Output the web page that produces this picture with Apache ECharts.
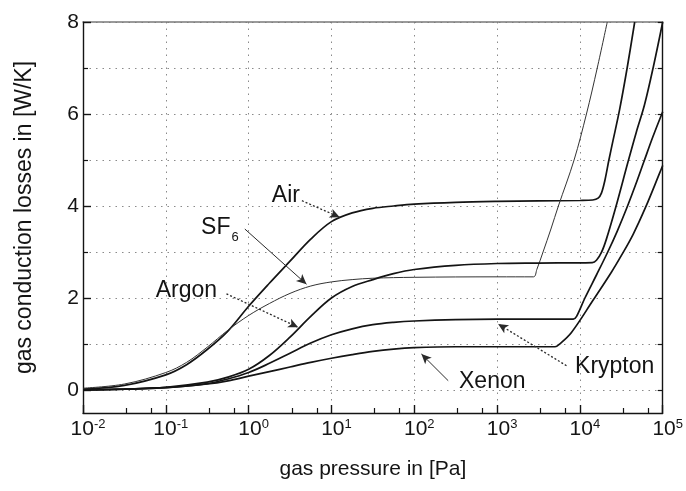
<!DOCTYPE html>
<html>
<head>
<meta charset="utf-8">
<script src="https://cdn.jsdelivr.net/npm/echarts@6/dist/echarts.min.js"></script>
<style>
  html, body { margin: 0; padding: 0; background: #fff; }
  #chart { width: 686px; height: 491px; }
</style>
</head>
<body>
<div id="chart"></div>
<script>
// Gas pressure (Pa) and gas conduction losses (W/K) for each fill gas
const airP = [0.01, 0.0316, 0.1, 0.178, 0.316, 0.562, 1, 1.78, 3.16, 5.62, 10, 17.8, 31.6, 56.2, 100, 316, 1000, 3160, 10000, 14300, 16600, 18200, 20000, 22400, 25100, 30200, 37200, 45900];
const airW = [0.02, 0.10, 0.33, 0.55, 0.88, 1.28, 1.82, 2.32, 2.80, 3.28, 3.66, 3.85, 3.95, 4.00, 4.04, 4.08, 4.10, 4.11, 4.12, 4.13, 4.17, 4.28, 4.55, 5.00, 5.42, 6.10, 7.00, 8.00];

const sf6P = [0.01, 0.0316, 0.1, 0.178, 0.316, 0.562, 1, 1.78, 3.16, 5.62, 10, 17.8, 31.6, 100, 1000, 2750, 3020, 3590, 4470, 5500, 8510, 12000, 16200, 21400];
const sf6W = [0.04, 0.13, 0.38, 0.60, 0.93, 1.30, 1.62, 1.88, 2.10, 2.26, 2.35, 2.40, 2.43, 2.45, 2.46, 2.46, 2.62, 3.00, 3.50, 4.00, 5.00, 6.00, 7.00, 8.00];

const argonP = [0.01, 0.0316, 0.1, 0.316, 0.562, 1, 1.78, 3.16, 5.62, 10, 17.8, 31.6, 56.2, 100, 316, 1000, 3160, 14100, 15850, 18200, 20900, 26900, 38000, 47900, 60300, 77600, 100000];
const argonW = [0.00, 0.02, 0.06, 0.17, 0.28, 0.45, 0.75, 1.15, 1.60, 2.00, 2.25, 2.40, 2.53, 2.62, 2.71, 2.75, 2.76, 2.77, 2.82, 2.99, 3.28, 3.95, 4.95, 5.60, 6.20, 7.05, 8.00];

const kryptonP = [0.01, 0.0316, 0.1, 0.316, 0.562, 1, 1.78, 3.16, 5.62, 10, 17.8, 31.6, 56.2, 100, 316, 1000, 3160, 8320, 9120, 11500, 15850, 21700, 28200, 36700, 46800, 58900, 75900, 100000];
const kryptonW = [0.00, 0.02, 0.05, 0.14, 0.24, 0.38, 0.58, 0.80, 1.02, 1.20, 1.33, 1.42, 1.47, 1.50, 1.53, 1.54, 1.54, 1.54, 1.60, 2.00, 2.50, 3.00, 3.45, 3.95, 4.45, 4.95, 5.50, 6.05];

const xenonP = [0.01, 0.0316, 0.1, 0.316, 0.562, 1, 1.78, 3.16, 5.62, 10, 17.8, 31.6, 56.2, 100, 316, 1000, 3160, 5010, 5620, 7910, 14400, 24000, 31600, 43800, 62400, 92000, 100000];
const xenonW = [0.00, 0.02, 0.05, 0.13, 0.20, 0.30, 0.40, 0.50, 0.60, 0.69, 0.77, 0.84, 0.89, 0.92, 0.94, 0.94, 0.94, 0.94, 0.99, 1.25, 1.95, 2.56, 2.92, 3.38, 3.98, 4.72, 4.88];

// Axis ticks
const pressureTicks = [1e-2, 1e-1, 1, 10, 100, 1e3, 1e4, 1e5];
const pressureMinorTicks = [0.0333, 0.0667, 0.333, 0.667, 3.33, 6.67, 33.3, 66.7, 333, 667, 3333, 6667, 33333, 66667];
const lossLabelTicks = [0, 2, 4, 6, 8];
const lossMinorTicks = [1, 3, 5, 7];
const lossGridTicks = [0, 1, 2, 3, 4, 5, 6, 7, 8];

// Gas name texts placed at [pressure, loss]
const gasLabels = [
  { text: 'Air', at: [2.82, 4.22] },
  { text: '{a|SF}{b|6}', at: [0.45, 3.51] },
  { text: 'Argon', at: [0.177, 2.17] },
  { text: 'Krypton', at: [26300, 0.50] },
  { text: 'Xenon', at: [875, 0.185] }
];
// Pointer arrows from each name to its curve
const gasArrows = {
  Air: { from: [4.40, 4.115], to: [12.6, 3.754], dotted: true },
  SF6: { from: [0.90, 3.50], to: [5.0, 2.30], dotted: false },
  Argon: { from: [0.54, 2.09], to: [3.96, 1.363], dotted: true },
  Krypton: { from: [6890, 0.528], to: [1030, 1.435], dotted: true },
  Xenon: { from: [257, 0.202], to: [122, 0.783], dotted: false }
};

const FONT = '"Liberation Sans", Arial, Helvetica, sans-serif';
const INK = '#141414';
const GRID = '#8a8a8a';

function pairs(xs, ys) { return xs.map((x, i) => [x, ys[i]]); }

function arrowMark(a) {
  return {
    silent: true,
    symbol: ['none', 'arrow'],
    symbolSize: [7, 10],
    label: { show: false },
    animation: false,
    data: [[
      { coord: a.from, lineStyle: { color: '#2a2a2a', width: a.dotted ? 1.3 : 1.0, type: a.dotted ? [2, 2] : 'solid' } },
      { coord: a.to }
    ]]
  };
}

function expOf(v) { return Math.round(Math.log10(v)); }

const chart = echarts.init(document.getElementById('chart'), null, { renderer: 'canvas' });

const gasSeries = [
  { name: 'Air', p: airP, w: airW, width: 1.7, color: INK },
  { name: 'SF6', p: sf6P, w: sf6W, width: 1.0, color: '#333' },
  { name: 'Argon', p: argonP, w: argonW, width: 1.7, color: INK },
  { name: 'Krypton', p: kryptonP, w: kryptonW, width: 1.7, color: INK },
  { name: 'Xenon', p: xenonP, w: xenonW, width: 1.7, color: INK }
].map(g => ({
  name: g.name,
  type: 'line',
  xAxisIndex: 0,
  yAxisIndex: 0,
  data: pairs(g.p, g.w),
  showSymbol: false,
  symbol: 'none',
  smooth: 0.35,
  clip: true,
  lineStyle: { color: g.color, width: g.width },
  markLine: arrowMark(gasArrows[g.name]),
  z: 3
}));

const labelSeries = {
  type: 'scatter',
  xAxisIndex: 0,
  yAxisIndex: 0,
  symbolSize: 1,
  itemStyle: { color: 'rgba(0,0,0,0)' },
  silent: true,
  z: 5,
  data: gasLabels.map(l => ({ value: l.at, name: l.text })),
  label: {
    show: true,
    position: 'inside',
    formatter: p => p.name,
    color: INK,
    opacity: 1,
    textBorderWidth: 0,
    fontFamily: FONT,
    fontSize: 23,
    rich: {
      a: { fontFamily: FONT, fontSize: 23, lineHeight: 24, color: INK, textBorderWidth: 0, verticalAlign: 'top' },
      b: { fontFamily: FONT, fontSize: 13, lineHeight: 13, color: INK, textBorderWidth: 0, padding: [18, 0, 0, 1] }
    }
  }
};

const logRange = { type: 'log', logBase: 10, min: 1e-2, max: 1e5 };

chart.setOption({
  animation: false,
  backgroundColor: '#fff',
  grid: { left: 83, right: 23, top: 22, bottom: 78, containLabel: false },
  xAxis: [
    Object.assign({}, logRange, {
      position: 'bottom',
      name: 'gas pressure in [Pa]',
      nameLocation: 'middle',
      nameGap: 46,
      nameTextStyle: { fontFamily: FONT, fontSize: 21, color: INK },
      axisLine: { onZero: false, lineStyle: { color: INK, width: 1.4 } },
      axisTick: { customValues: pressureTicks, inside: true, length: 8, lineStyle: { color: INK, width: 1.4 } },
      axisLabel: {
        customValues: pressureTicks,
        margin: 5,
        color: INK,
        formatter: v => '{b|10}{s|' + expOf(v) + '}',
        rich: {
          b: { fontFamily: FONT, fontSize: 21, lineHeight: 22, color: INK, padding: [3, 0, 0, 10], verticalAlign: 'bottom' },
          s: { fontFamily: FONT, fontSize: 13, lineHeight: 13, color: INK, verticalAlign: 'top' }
        }
      },
      splitLine: { show: true, lineStyle: { color: GRID, width: 1, type: [1.5, 5] } }
    }),
    Object.assign({}, logRange, {
      position: 'bottom',
      axisLine: { show: false, onZero: false },
      axisTick: { customValues: pressureMinorTicks, inside: true, length: 5, lineStyle: { color: INK, width: 1.2 } },
      axisLabel: { show: false },
      splitLine: { show: false }
    }),
    Object.assign({}, logRange, {
      position: 'top',
      axisLine: { show: true, onZero: false, lineStyle: { color: '#7a7a7a', width: 1.6 } },
      axisTick: { show: false },
      axisLabel: { show: false },
      splitLine: { show: false }
    })
  ],
  yAxis: [
    {
      type: 'value', position: 'left', min: -0.5, max: 8,
      name: 'gas conduction losses in [W/K]',
      nameLocation: 'middle',
      nameGap: 47,
      nameRotate: 90,
      nameTextStyle: { fontFamily: FONT, fontSize: 23, color: INK },
      axisLine: { show: true, onZero: false, lineStyle: { color: INK, width: 1.4 } },
      axisTick: { customValues: lossLabelTicks, inside: true, length: 8, lineStyle: { color: INK, width: 1.4 } },
      axisLabel: { customValues: lossLabelTicks, margin: 4, color: INK, fontFamily: FONT, fontSize: 21 },
      splitLine: { show: false }
    },
    {
      type: 'value', position: 'left', min: -0.5, max: 8,
      axisLine: { show: false, onZero: false },
      axisTick: { customValues: lossMinorTicks, inside: true, length: 5, lineStyle: { color: INK, width: 1.2 } },
      axisLabel: { show: false },
      splitLine: { show: false }
    },
    {
      type: 'value', position: 'right', min: -0.5, max: 8,
      axisLine: { show: true, onZero: false, lineStyle: { color: INK, width: 1.4 } },
      axisTick: { customValues: lossGridTicks, inside: true, length: 5, lineStyle: { color: INK, width: 1.2 } },
      axisLabel: { show: false },
      splitLine: { show: true, lineStyle: { color: GRID, width: 1, type: [1.5, 5] } }
    }
  ],
  series: gasSeries.concat([labelSeries])
});
</script>
</body>
</html>
